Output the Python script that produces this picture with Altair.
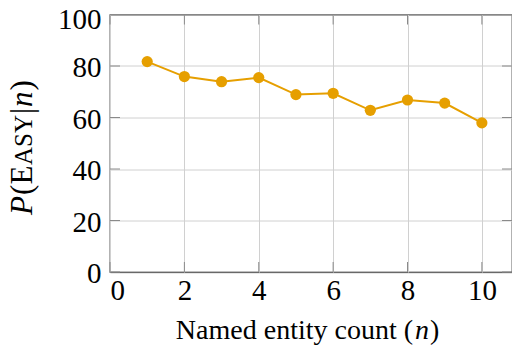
import altair as alt
import pandas as pd

n_values = [1, 2, 3, 4, 5, 6, 7, 8, 9, 10]
p_easy = [81.7, 75.9, 73.9, 75.5, 68.9, 69.4, 62.8, 66.8, 65.6, 57.9]
x_ticks = [0, 2, 4, 6, 8, 10]
y_ticks = [0, 20, 40, 60, 80, 100]

W, H = 402, 257.5
X0, Y0 = 110, 14.5  # page position of plot origin
FONT = "Liberation Serif"
FS = 29
ORANGE = "#E69F00"

df = pd.DataFrame({"n": n_values, "p": p_easy})
xt = pd.DataFrame({"x": x_ticks})
yt = pd.DataFrame({"y": y_ticks})

xs = alt.Scale(domain=[0, 10.81], nice=False, zero=False)
ys = alt.Scale(domain=[0, 100], nice=False)

xaxis = alt.Axis(values=x_ticks, title=None, grid=True,
                 ticks=False, domain=False, labelPadding=4)
yaxis = alt.Axis(values=y_ticks, title=None, grid=True,
                 ticks=False, domain=False, labelPadding=9,
                 labelOffset={"condition": {"test": "datum.value == 100", "value": 5}, "value": 1.5})

base = alt.Chart(df)
line = base.mark_line(color=ORANGE, strokeWidth=2).encode(
    x=alt.X("n:Q", scale=xs, axis=xaxis),
    y=alt.Y("p:Q", scale=ys, axis=yaxis),
)
pts = base.mark_point(color=ORANGE, filled=True, opacity=1, size=125).encode(
    x=alt.X("n:Q", scale=xs, axis=xaxis), y=alt.Y("p:Q", scale=ys, axis=yaxis)
)

tick_col = "#8a8a8a"
lt = alt.Chart(yt).mark_rule(color=tick_col, strokeWidth=1).encode(
    y=alt.Y("y:Q", scale=ys, axis=yaxis), x=alt.value(0), x2=alt.value(10))
rt = alt.Chart(yt).mark_rule(color=tick_col, strokeWidth=1).encode(
    y=alt.Y("y:Q", scale=ys, axis=yaxis), x=alt.value(W - 10), x2=alt.value(W))
bt = alt.Chart(xt).mark_rule(color=tick_col, strokeWidth=1).encode(
    x=alt.X("x:Q", scale=xs, axis=xaxis), y=alt.value(H), y2=alt.value(H - 10))
tt = alt.Chart(xt).mark_rule(color=tick_col, strokeWidth=1).encode(
    x=alt.X("x:Q", scale=xs, axis=xaxis), y=alt.value(0), y2=alt.value(10))


def txt(text, px, py, fs=FS, style="normal", align="left", angle=0):
    return alt.Chart(df).mark_text(
        text=text, angle=angle, align=align, baseline="alphabetic",
        font=FONT, fontSize=fs, fontStyle=style, color="black",
    ).encode(x=alt.value(px - X0), y=alt.value(py - Y0)).transform_filter("datum.n == 1")


# y-axis title P(EASY|n) with small caps, rotated
ty = 32
TF = 31
ytitle = [
    txt("P", ty, 215, fs=TF, style="italic", angle=270),
    txt("(", ty, 195, fs=TF, angle=270),
    txt("E", ty, 184.5, fs=TF, angle=270),
    txt("ASY", ty, 165, fs=25, angle=270),
    txt("|", ty, 114, fs=TF, angle=270),
    txt("n", ty, 107, fs=TF, style="italic", angle=270),
    txt(")", ty, 90.5, fs=TF, angle=270),
]
# x-axis title Named entity count (n)
XF = 28
XB = 339
xtitle = [
    txt("Named entity count (", 413, XB, fs=XF, align="right"),
    txt("n", 415, XB, fs=XF, style="italic"),
    txt(")", 430, XB, fs=XF),
]

chart = alt.layer(line, lt, rt, bt, tt, pts, *ytitle, *xtitle).properties(
    width=W, height=H, autosize=alt.AutoSizeParams(type="none"),
    padding={"left": 102, "top": 6.5, "right": 0, "bottom": 74},
).configure_view(stroke="black", strokeWidth=1.2).configure_axis(
    gridColor="#d0d0d0", gridWidth=1,
    labelFont=FONT, labelFontSize=FS, labelColor="black",
)

chart.save("out.html", embed_options={"renderer": "svg", "actions": False})
